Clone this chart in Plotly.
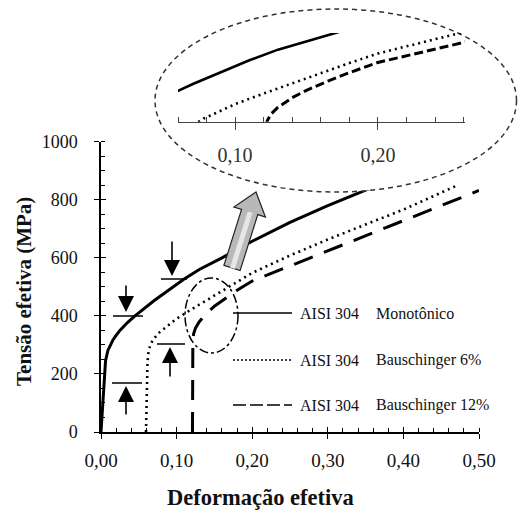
import math
import plotly.graph_objects as go

W, H = 518, 515

# ---------------- data ----------------
mono_x = [0, 0.002, 0.004, 0.006, 0.009, 0.012, 0.016, 0.02, 0.025, 0.035, 0.045,
          0.07, 0.1, 0.11, 0.13, 0.16, 0.2, 0.25, 0.3, 0.35, 0.4, 0.45, 0.5]
mono_y = [0, 95, 190, 245, 280, 298, 318, 333, 350, 377, 400,
          452, 510, 527, 560, 600, 657, 722, 780, 833, 882, 930, 978]

b6_x = [0.0595, 0.060, 0.0605, 0.0615, 0.063, 0.066, 0.07, 0.078, 0.088, 0.1,
        0.12, 0.14, 0.16, 0.18, 0.2, 0.25, 0.3, 0.35, 0.4, 0.47]
b6_y = [0, 80, 170, 240, 280, 305, 322, 345, 365, 390,
        423, 455, 487, 518, 548, 608, 663, 715, 766, 848]

b12_x = [0.121, 0.121, 0.1215, 0.1225, 0.125, 0.13, 0.14, 0.15, 0.165, 0.18,
         0.2, 0.25, 0.3, 0.35, 0.4, 0.45, 0.5]
b12_y = [0, 280, 315, 338, 358, 380, 410, 433, 462, 488,
         520, 572, 625, 677, 730, 782, 832]

x_ticks = [0.0, 0.1, 0.2, 0.3, 0.4, 0.5]
x_ticktext = ["0,00", "0,10", "0,20", "0,30", "0,40", "0,50"]
y_ticks = [0, 200, 400, 600, 800, 1000]
y_ticktext = ["0", "200", "400", "600", "800", "1000"]
inset_ticks = [0.1, 0.2]
inset_ticktext = ["0,10", "0,20"]

legend_series = ["AISI 304", "AISI 304", "AISI 304"]
legend_names = ["Monotônico", "Bauschinger 6%", "Bauschinger 12%"]

FONT = "'Liberation Serif', 'Times New Roman', Times, 'DejaVu Serif', serif"


def px(x):
    return x / W


def py(y):
    return 1 - y / H


fig = go.Figure()

styles = [
    (mono_x, mono_y, dict(color="black", width=3, dash="solid"),
     dict(color="black", width=2.6, dash="solid")),
    (b6_x, b6_y, dict(color="black", width=2.6, dash="2px,4px"),
     dict(color="black", width=2.6, dash="2px,4px")),
    (b12_x, b12_y, dict(color="black", width=3, dash="20px,12px"),
     dict(color="black", width=3, dash="9px,4px")),
]

# main curves
for xs, ys, ln, _ in styles:
    fig.add_trace(go.Scatter(x=xs, y=ys, mode="lines", line=ln, showlegend=False,
                             hoverinfo="skip", xaxis="x", yaxis="y"))
# dummy for the overlay tick axes (major ticks crossing the axis)
fig.add_trace(go.Scatter(x=[], y=[], xaxis="x4", yaxis="y4", showlegend=False))
# dummy for the white ellipse subplot
fig.add_trace(go.Scatter(x=[], y=[], xaxis="x2", yaxis="y2", showlegend=False))
# inset curves
for xs, ys, _, ln in styles:
    fig.add_trace(go.Scatter(x=xs, y=ys, mode="lines", line=ln, showlegend=False,
                             hoverinfo="skip", xaxis="x3", yaxis="y3"))

# main plot area in pixels
L, R, T, B = 101, 479, 141.7, 432
tickfont_x = dict(family=FONT, size=19, color="#111")
tickfont_y = dict(family=FONT, size=18, color="#111")

layout = dict(
    width=W, height=H,
    margin=dict(l=0, r=0, t=0, b=0),
    paper_bgcolor="white", plot_bgcolor="rgba(0,0,0,0)",
    showlegend=False,
    font=dict(family=FONT),
    xaxis=dict(domain=[px(L), px(R)], range=[0, 0.5], anchor="y",
               tickvals=x_ticks, ticktext=x_ticktext, tickfont=tickfont_x,
               ticks="outside", ticklen=5, tickwidth=1.3, tickcolor="black",
               minor=dict(dtick=0.02, tick0=0, ticks="inside", ticklen=4,
                          tickwidth=1.2, tickcolor="black"),
               showline=True, linecolor="black", linewidth=1.5,
               showgrid=False, zeroline=False, ticklabelstandoff=5,
               automargin=False, fixedrange=True),
    yaxis=dict(domain=[py(B), py(T)], range=[0, 1000], anchor="x",
               tickvals=y_ticks, ticktext=y_ticktext, tickfont=tickfont_y,
               ticks="outside", ticklen=5, tickwidth=1.3, tickcolor="black",
               minor=dict(dtick=50, tick0=0, ticks="inside", ticklen=4,
                          tickwidth=1.2, tickcolor="black"),
               showline=True, linecolor="black", linewidth=1.5,
               showgrid=False, zeroline=False, ticklabelstandoff=13,
               automargin=False, fixedrange=True),
    xaxis4=dict(overlaying="x", anchor="y", range=[0, 0.5], tickvals=x_ticks,
                ticks="inside", ticklen=5, tickwidth=1.3, tickcolor="black",
                showticklabels=False, showline=False, showgrid=False,
                zeroline=False, fixedrange=True),
    yaxis4=dict(overlaying="y", anchor="x", range=[0, 1000], tickvals=y_ticks,
                ticks="inside", ticklen=5, tickwidth=1.3, tickcolor="black",
                showticklabels=False, showline=False, showgrid=False,
                zeroline=False, fixedrange=True),
    # subplot holding the white dashed ellipse (pixel units)
    xaxis2=dict(domain=[px(150), 1.0], range=[150, 518], anchor="y2",
                visible=False, fixedrange=True),
    yaxis2=dict(domain=[py(197), py(4)], range=[197, 4], anchor="x2",
                visible=False, fixedrange=True),
    # inset axes
    xaxis3=dict(domain=[px(178), px(465)], range=[0.06, 0.261], anchor="y3",
                tickvals=inset_ticks, ticktext=inset_ticktext,
                tickfont=dict(family=FONT, size=20, color="#333"),
                ticks="outside", ticklen=7, tickwidth=1, tickcolor="#444",
                minor=dict(dtick=0.02, tick0=0, ticks="inside", ticklen=5,
                           tickwidth=1, tickcolor="#444"),
                showline=True, linecolor="#444", linewidth=1,
                showgrid=False, zeroline=False, ticklabelstandoff=8,
                fixedrange=True),
    yaxis3=dict(domain=[py(121.7), py(33)], range=[335, 612], anchor="x3",
                visible=False, fixedrange=True),
)
fig.update_layout(**layout)

shapes = []
# white dashed ellipse (magnified view)
shapes.append(dict(type="circle", xref="x2", yref="y2", layer="below",
                   x0=155, x1=516.5, y0=9, y1=192,
                   fillcolor="white", line=dict(color="#333", width=1.5, dash="5px,4px")))

# small dash-dot ellipse marking the zoomed region
shapes.append(dict(type="circle", xref="paper", yref="paper", layer="above",
                   x0=px(185), x1=px(238), y0=py(353), y1=py(278),
                   line=dict(color="black", width=1.5, dash="dashdot")))

# horizontal markers with arrows (yield points)
for (x0, x1, yy) in [(113, 143, 316), (161, 187, 279), (112, 142, 383), (157, 185, 344)]:
    shapes.append(dict(type="line", xref="paper", yref="paper", layer="above",
                       x0=px(x0), x1=px(x1), y0=py(yy), y1=py(yy),
                       line=dict(color="black", width=1.5)))

# big gray arrow pointing to the magnified view
bx, by = 232, 268
tx, ty = 256, 192
Ln = math.hypot(tx - bx, ty - by)
ux, uy = (tx - bx) / Ln, (ty - by) / Ln
nx, ny = -uy, ux
hw, hh, hl = 8.5, 16.5, 21
neck = (tx - hl * ux, ty - hl * uy)
pts = [
    (bx - hw * nx, by - hw * ny),
    (neck[0] - hw * nx, neck[1] - hw * ny),
    (neck[0] - hh * nx, neck[1] - hh * ny),
    (tx, ty),
    (neck[0] + hh * nx, neck[1] + hh * ny),
    (neck[0] + hw * nx, neck[1] + hw * ny),
    (bx + hw * nx, by + hw * ny),
]
path = "M " + " L ".join(f"{px(a):.5f},{py(b):.5f}" for a, b in pts) + " Z"
shapes.append(dict(type="path", xref="paper", yref="paper", layer="above", path=path,
                   fillcolor="#b8b8b8", line=dict(color="#222", width=1.2)))
# lighter highlight strip on the arrow shaft (3-D look)
hl_pts = [
    (bx - 2 * nx, by - 2 * ny),
    (neck[0] - 2 * nx, neck[1] - 2 * ny),
    (neck[0] + 3 * nx, neck[1] + 3 * ny),
    (bx + 3 * nx, by + 3 * ny),
]
hl_path = "M " + " L ".join(f"{px(a):.5f},{py(b):.5f}" for a, b in hl_pts) + " Z"
shapes.append(dict(type="path", xref="paper", yref="paper", layer="above", path=hl_path,
                   fillcolor="#e6e6e6", line=dict(width=0)))

# legend samples
leg_y = [313, 360, 405]
leg_dash = ["solid", "2px,2px", "13px,4px"]
leg_w = [1.5, 1.3, 1.5]
for yy, d, w in zip(leg_y, leg_dash, leg_w):
    shapes.append(dict(type="line", xref="paper", yref="paper", layer="above",
                       x0=px(233), x1=px(292), y0=py(yy), y1=py(yy),
                       line=dict(color="black", width=w, dash=d)))

fig.update_layout(shapes=shapes)

ann = []
# arrows
for (x, y, ay) in [(126, 312, -28), (172, 276, -36), (126, 386, 30), (170, 347, 31)]:
    ann.append(dict(x=px(x), y=py(y), xref="paper", yref="paper", text="",
                    showarrow=True, ax=0, ay=ay, arrowhead=2, arrowsize=2,
                    arrowwidth=1.6, arrowcolor="black", standoff=0))
# legend texts
for yy, s, n in zip(leg_y, legend_series, legend_names):
    ann.append(dict(x=px(298), y=py(yy), xref="paper", yref="paper", text=s,
                    showarrow=False, xanchor="left", yanchor="middle",
                    font=dict(family=FONT, size=16, color="#111")))
    ann.append(dict(x=px(374), y=py(yy), xref="paper", yref="paper", text=n,
                    showarrow=False, xanchor="left", yanchor="middle",
                    font=dict(family=FONT, size=16, color="#111")))
# axis titles
ann.append(dict(x=px(260), y=py(497), xref="paper", yref="paper",
                text="<b>Deformação efetiva</b>", showarrow=False,
                xanchor="center", yanchor="middle",
                font=dict(family=FONT, size=22.5, color="#111")))
ann.append(dict(x=px(24), y=py(292), xref="paper", yref="paper",
                text="<b>Tensão efetiva (MPa)</b>", showarrow=False, textangle=-90,
                xanchor="center", yanchor="middle",
                font=dict(family=FONT, size=21, color="#111")))
fig.update_layout(annotations=ann)

fig.write_html("out.html")
